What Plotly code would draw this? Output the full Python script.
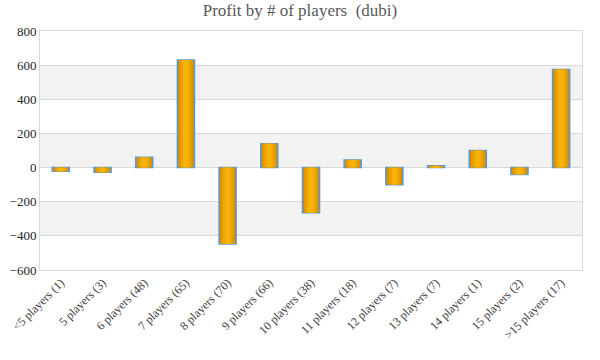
import plotly.graph_objects as go

categories = ["<5 players (1)", "5 players (3)", "6 players (48)", "7 players (65)",
              "8 players (70)", "9 players (66)", "10 players (38)", "11 players (18)",
              "12 players (7)", "13 players (7)", "14 players (1)", "15 players (2)",
              ">15 players (17)"]
profit = [-22, -28, 60, 630, -447, 140, -265, 45, -100, 10, 100, -40, 575]
y_ticks = [-600, -400, -200, 0, 200, 400, 600, 800]

fig = go.Figure()

# layered bars to imitate the horizontal gradient fill
layers = [
    (0.41, "#D48800"),
    (0.33, "#E29800"),
    (0.23, "#EEA700"),
    (0.12, "#F6B30A"),
]
for i, (w, c) in enumerate(layers):
    fig.add_trace(go.Bar(
        x=categories, y=profit, width=w,
        marker=dict(color=c,
                    line=dict(color="#5B9BD5" if i == 0 else c, width=1.5 if i == 0 else 0)),
        showlegend=False, hoverinfo="y" if i == 0 else "skip",
    ))

# alternating grey bands between gridlines
for k in range(0, len(y_ticks) - 1):
    if k % 2 == 0:
        continue
    fig.add_shape(type="rect", xref="paper", yref="y", x0=0, x1=1,
                  y0=y_ticks[k], y1=y_ticks[k + 1],
                  fillcolor="#F2F2F2", line=dict(width=0), layer="below")

font_family = "Georgia, 'Liberation Serif', 'DejaVu Serif', serif"
fig.update_layout(
    width=600, height=360,
    barmode="overlay",
    title=dict(text="Profit by # of players  (dubi)", x=0.5, xanchor="center",
               y=0.988, yanchor="top",
               font=dict(family=font_family, size=17, color="#595959")),
    margin=dict(l=40, r=18, t=31, b=90),
    plot_bgcolor="white", paper_bgcolor="white",
    font=dict(family=font_family, size=12, color="#404040"),
)
fig.update_xaxes(tickangle=-45, showgrid=False, showline=True, linecolor="#D9D9D9",
                 mirror=True, tickfont=dict(size=12, color="#404040"), ticks="",
                 automargin=False)
fig.update_yaxes(range=[-600, 800], tickvals=y_ticks, showgrid=True, gridcolor="#D9D9D9",
                 zeroline=True, zerolinecolor="#D9D9D9", zerolinewidth=1,
                 showline=True, linecolor="#D9D9D9", mirror=True,
                 tickfont=dict(size=13, color="#262626"), ticks="", automargin=False)

fig.write_html("out.html", config={"displayModeBar": False},
               post_script="document.body.style.margin='0';")
